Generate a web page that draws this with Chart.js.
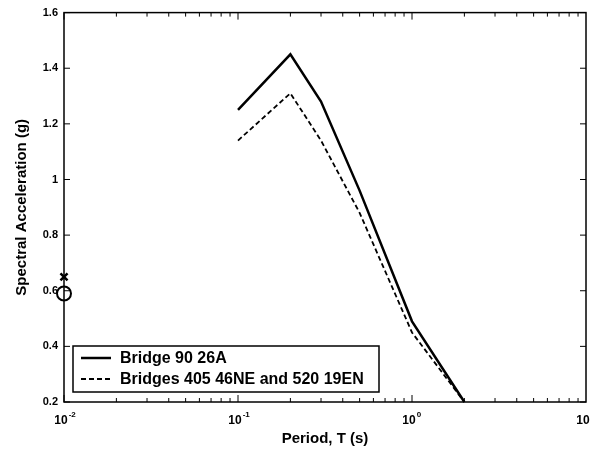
<!DOCTYPE html>
<html>
<head>
<meta charset="utf-8">
<script src="https://cdn.jsdelivr.net/npm/chart.js@4.4.0/dist/chart.umd.min.js"></script>
<style>
  html, body { margin: 0; padding: 0; background: #fff; }
  #wrap { width: 590px; height: 452px; position: relative; }
</style>
</head>
<body>
<div id="wrap"><canvas id="chart"></canvas></div>
<script>
// --- Datos ---
const periods = [0.1, 0.2, 0.3, 0.5, 1.0, 2.0];
const bridge90 = [1.25, 1.45, 1.28, 0.96, 0.49, 0.2];
const bridges405 = [1.14, 1.31, 1.14, 0.88, 0.45, 0.2];
const pgaPeriod = [0.01];
const pga90 = [0.65];
const pga405 = [0.59];
const yTicks = [0.2, 0.4, 0.6, 0.8, 1, 1.2, 1.4, 1.6];
const xDecades = [0.01, 0.1, 1, 10];
const xExponents = ['-2', '-1', '0', '1'];
const legendLabels = ['Bridge 90 26A', 'Bridges 405 46NE and 520 19EN'];

const FONT = 'Liberation Sans, Arial, sans-serif';
const toPoints = (xs, ys) => xs.map((x, i) => ({ x: x, y: ys[i] }));

// Marco, marcas hacia dentro, etiquetas del eje x y leyenda
const framePlugin = {
    id: 'frame',
    afterDraw(chart) {
        const ctx = chart.ctx;
        const a = chart.chartArea;
        const xs = chart.scales.x;
        const ys = chart.scales.y;
        ctx.save();
        ctx.strokeStyle = '#000';
        ctx.lineWidth = 1.5;
        ctx.strokeRect(a.left, a.top, a.right - a.left, a.bottom - a.top);

        // marcas del eje x (log)
        ctx.lineWidth = 1;
        ctx.beginPath();
        xDecades.slice(0, 3).forEach(d => {
            for (let m = 1; m <= 9; m++) {
                const px = xs.getPixelForValue(d * m);
                const len = m === 1 ? 7 : 4;
                ctx.moveTo(px, a.bottom); ctx.lineTo(px, a.bottom - len);
                ctx.moveTo(px, a.top); ctx.lineTo(px, a.top + len);
            }
        });
        // marcas del eje y
        yTicks.forEach(v => {
            const py = ys.getPixelForValue(v);
            ctx.moveTo(a.left, py); ctx.lineTo(a.left + 6, py);
            ctx.moveTo(a.right, py); ctx.lineTo(a.right - 6, py);
        });
        ctx.stroke();

        // etiquetas 10^n
        ctx.fillStyle = '#000';
        xDecades.forEach((d, i) => {
            const px = xs.getPixelForValue(d);
            ctx.font = 'bold 12px ' + FONT;
            const w = ctx.measureText('10').width;
            ctx.textBaseline = 'alphabetic';
            ctx.textAlign = 'left';
            const left = px - w / 2 - 3;
            ctx.fillText('10', left, a.bottom + 22);
            ctx.font = 'bold 8px ' + FONT;
            ctx.fillText(xExponents[i], left + w + 1, a.bottom + 15);
        });

        // leyenda
        const lx = 73, ly = 346, lw = 306, lh = 46;
        ctx.fillStyle = '#fff';
        ctx.fillRect(lx, ly, lw, lh);
        ctx.lineWidth = 1.5;
        ctx.strokeRect(lx, ly, lw, lh);
        ctx.font = 'bold 16px ' + FONT;
        ctx.fillStyle = '#000';
        ctx.textBaseline = 'middle';
        ctx.textAlign = 'left';
        const rows = [ly + 12, ly + 33];
        const styles = [{ w: 2.5, dash: [] }, { w: 2, dash: [5, 3] }];
        rows.forEach((ry, i) => {
            ctx.lineWidth = styles[i].w;
            ctx.setLineDash(styles[i].dash);
            ctx.beginPath();
            ctx.moveTo(81, ry); ctx.lineTo(111, ry);
            ctx.stroke();
            ctx.setLineDash([]);
            ctx.fillText(legendLabels[i], 120, ry + 1);
        });
        ctx.restore();
    }
};

new Chart(document.getElementById('chart'), {
    type: 'scatter',
    data: {
        datasets: [
            {
                label: legendLabels[0],
                data: toPoints(periods, bridge90),
                showLine: true,
                borderColor: '#000',
                borderWidth: 2.5,
                pointRadius: 0,
                tension: 0
            },
            {
                label: legendLabels[1],
                data: toPoints(periods, bridges405),
                showLine: true,
                borderColor: '#000',
                borderWidth: 1.8,
                borderDash: [5, 3],
                pointRadius: 0,
                tension: 0
            },
            {
                label: 'PGA 90',
                data: toPoints(pgaPeriod, pga90),
                pointStyle: 'crossRot',
                pointRadius: 5,
                borderColor: '#000',
                borderWidth: 2.5,
                backgroundColor: 'transparent'
            },
            {
                label: 'PGA 405',
                data: toPoints(pgaPeriod, pga405),
                pointStyle: 'circle',
                pointRadius: 7,
                borderColor: '#000',
                borderWidth: 2,
                backgroundColor: 'transparent'
            }
        ]
    },
    options: {
        responsive: true,
        maintainAspectRatio: false,
        animation: false,
        clip: false,
        layout: { autoPadding: false, padding: { top: 12, right: 4, left: 0, bottom: 0 } },
        plugins: {
            legend: { display: false },
            tooltip: { enabled: false }
        },
        scales: {
            x: {
                type: 'logarithmic',
                min: 0.01,
                max: 10,
                grid: { display: false, drawTicks: false },
                border: { display: false },
                ticks: { display: false },
                afterFit: s => { s.height = 50; },
                title: {
                    display: true,
                    text: 'Period, T (s)',
                    font: { family: FONT, size: 15, weight: 'bold' },
                    color: '#000',
                    padding: { top: 24 }
                }
            },
            y: {
                min: 0.2,
                max: 1.6,
                afterBuildTicks: s => { s.ticks = yTicks.map(v => ({ value: v })); },
                grid: { display: false, drawTicks: false },
                border: { display: false },
                ticks: {
                    color: '#000',
                    font: { family: FONT, size: 11, weight: 'bold' },
                    padding: 6,
                    callback: v => String(v)
                },
                afterFit: s => { s.width = 64; },
                title: {
                    display: true,
                    text: 'Spectral Acceleration (g)',
                    font: { family: FONT, size: 15, weight: 'bold' },
                    color: '#000',
                    padding: { top: 13, bottom: 0 }
                }
            }
        }
    },
    plugins: [framePlugin]
});
</script>
</body>
</html>
